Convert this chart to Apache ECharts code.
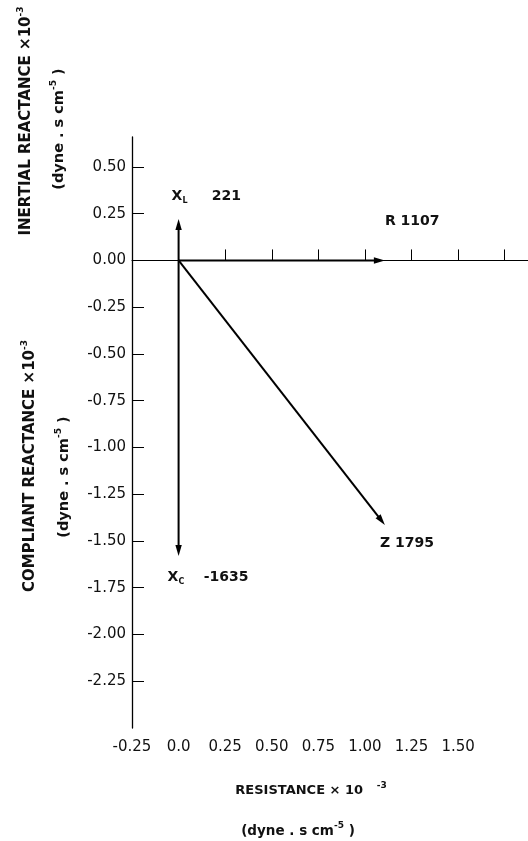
<!DOCTYPE html>
<html>
<head>
<meta charset="utf-8">
<script src="https://cdn.jsdelivr.net/npm/echarts@6/dist/echarts.min.js"></script>
<style>
  html, body { margin: 0; padding: 0; background: #fff; }
  #chart { width: 528px; height: 841px; }
</style>
</head>
<body>
<div id="chart"></div>
<script>
// axis ticks
var xLabelValues = [-0.25, 0, 0.25, 0.5, 0.75, 1.0, 1.25, 1.5];
var xLabelTexts = ['-0.25', '0.0', '0.25', '0.50', '0.75', '1.00', '1.25', '1.50'];
var xZeroTicks = [0.25, 0.5, 0.75, 1.0, 1.25, 1.5, 1.75];
var yTickValues = [0.5, 0.25, 0, -0.25, -0.5, -0.75, -1.0, -1.25, -1.5, -1.75, -2.0, -2.25];

// vectors (x10^-3), drawn from the origin
var vectorNames = ['XL', 'R', 'XC', 'Z'];
var vectorEnds = [[0, 0.221], [1.107, 0], [0, -1.58], [1.107, -1.414]];
var vectorValues = ['221', '1107', '-1635', '1795'];

var FONT = 'DejaVu Sans';
// label offsets from the arrow tip (px)
var labelOffsets = [[-7, -23], [0, -39], [-11, 21], [-5, 18]];
var labelTexts = [
    'X{sub|L}     ' + vectorValues[0],
    'R ' + vectorValues[1],
    'X{sub|C}    ' + vectorValues[2],
    'Z ' + vectorValues[3]
];

var myChart = echarts.init(document.getElementById('chart'), null, {renderer: 'canvas'});

function renderVector(params, api) {
    var p0 = api.coord([0, 0]);
    var p1 = api.coord([api.value(0), api.value(1)]);
    var i = params.dataIndex;
    var dx = p1[0] - p0[0], dy = p1[1] - p0[1];
    var len = Math.sqrt(dx * dx + dy * dy);
    var ux = dx / len, uy = dy / len;
    var headLen = 11, headW = 3.2;
    var bx = p1[0] - ux * headLen, by = p1[1] - uy * headLen;
    return {
        type: 'group',
        children: [
            {
                type: 'line',
                shape: {x1: p0[0], y1: p0[1], x2: bx + ux * 2, y2: by + uy * 2},
                style: {stroke: '#000', lineWidth: 2}
            },
            {
                type: 'polygon',
                shape: {points: [[p1[0], p1[1]], [bx - uy * headW, by + ux * headW], [bx + uy * headW, by - ux * headW]]},
                style: {fill: '#000'}
            },
            {
                type: 'text',
                x: p1[0] + labelOffsets[i][0],
                y: p1[1] + labelOffsets[i][1],
                style: {
                    text: labelTexts[i],
                    font: 'bold 14px "' + FONT + '"',
                    fill: '#111',
                    align: 'left',
                    verticalAlign: 'middle',
                    rich: {
                        sub: {font: 'bold 8px "' + FONT + '"', fill: '#111', verticalAlign: 'bottom', lineHeight: 17}
                    }
                }
            }
        ]
    };
}

var titleRich = {
    sup: {font: 'bold 9px "' + FONT + '"', fill: '#111', verticalAlign: 'top', lineHeight: 20}
};

function titleText(x, y, rot, text, size) {
    return {
        type: 'text',
        x: x, y: y,
        rotation: rot,
        style: {
            text: text,
            font: 'bold ' + size + 'px "' + FONT + '"',
            fill: '#111',
            align: 'center',
            verticalAlign: 'middle',
            rich: titleRich
        }
    };
}

myChart.setOption({
    backgroundColor: '#fff',
    animation: false,
    grid: {left: 132, right: 0, top: 137, bottom: 113, containLabel: false},
    xAxis: [
        {
            type: 'value',
            min: -0.25, max: 1.875,
            position: 'bottom',
            axisLine: {show: false},
            axisTick: {show: false},
            splitLine: {show: false},
            axisLabel: {
                customValues: xLabelValues,
                margin: 12,
                fontFamily: FONT, fontSize: 15, color: '#111',
                formatter: function (v) {
                    var k = xLabelValues.indexOf(v);
                    return k >= 0 ? xLabelTexts[k] : '';
                }
            }
        },
        {
            type: 'value',
            min: -0.25, max: 1.875,
            position: 'bottom',
            axisLine: {show: true, onZero: true, onZeroAxisIndex: 0, lineStyle: {color: '#000', width: 1}},
            axisTick: {show: true, inside: true, length: 11, customValues: xZeroTicks, lineStyle: {color: '#000', width: 1}},
            axisLabel: {show: false},
            splitLine: {show: false}
        }
    ],
    yAxis: {
        type: 'value',
        min: -2.5, max: 0.66,
        axisLine: {show: true, onZero: false, lineStyle: {color: '#000', width: 1.3}},
        axisTick: {show: true, inside: true, length: 12, customValues: yTickValues, lineStyle: {color: '#000', width: 1}},
        splitLine: {show: false},
        axisLabel: {
            customValues: yTickValues,
            margin: 6,
            fontFamily: FONT, fontSize: 15, color: '#111',
            formatter: function (v) { return v.toFixed(2); }
        }
    },
    series: [
        {
            name: 'vectors',
            type: 'custom',
            xAxisIndex: 0,
            clip: false,
            renderItem: renderVector,
            encode: {x: 0, y: 1},
            data: vectorEnds.map(function (e, i) { return [e[0], e[1], vectorNames[i]]; })
        }
    ],
    graphic: [
        titleText(26, 121, Math.PI / 2, 'INERTIAL REACTANCE ×10{sup|-3}', 15),
        titleText(59, 129, Math.PI / 2, '(dyne . s cm{sup|-5} )', 14.5),
        titleText(30, 466, Math.PI / 2, 'COMPLIANT REACTANCE ×10{sup|-3}', 15),
        titleText(64, 477, Math.PI / 2, '(dyne . s cm{sup|-5} )', 14.5),
        titleText(311, 791, 0, 'RESISTANCE × 10   {sup|-3}', 13),
        titleText(298, 831, 0, '(dyne . s cm{sup|-5} )', 13.5)
    ]
});
</script>
</body>
</html>
